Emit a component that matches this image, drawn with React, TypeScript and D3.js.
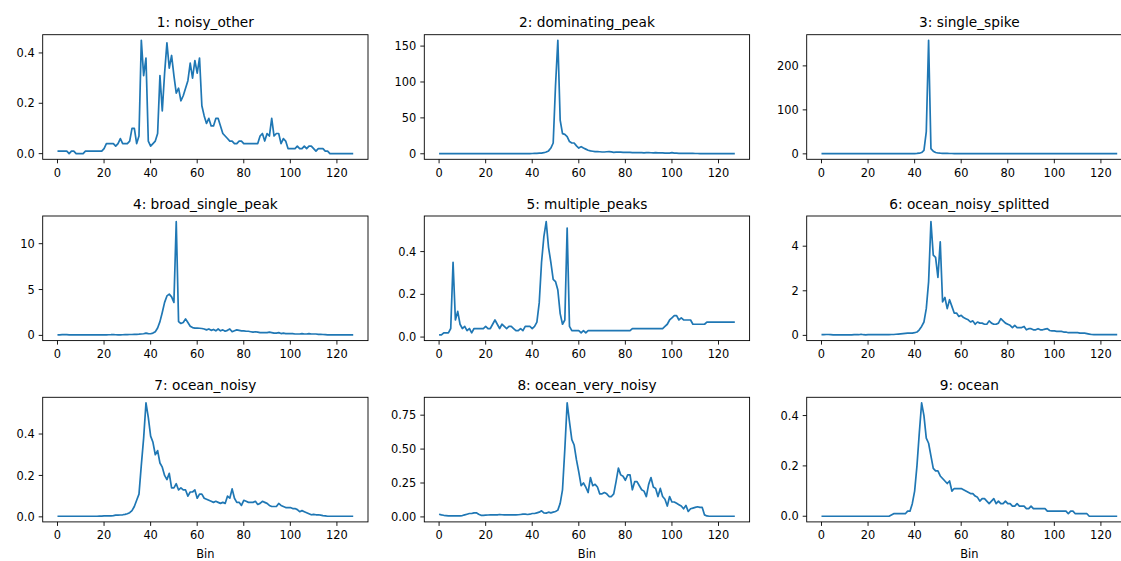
import React from "react";
import * as d3 from "d3";

// ---- data (bins 0..127) ----
const bins: number[] = Array.from({ length: 128 }, (_, i) => i);

const titles: string[] = [
  "1: noisy_other",
  "2: dominating_peak",
  "3: single_spike",
  "4: broad_single_peak",
  "5: multiple_peaks",
  "6: ocean_noisy_splitted",
  "7: ocean_noisy",
  "8: ocean_very_noisy",
  "9: ocean",
];

const noisyOther: number[] = [
  0.01, 0.01, 0.01, 0.01, 0.01, 0.0, 0.01, 0.01, 0.0, 0.0, 0.0, 0.0, 0.01, 0.01, 0.01, 0.01,
  0.01, 0.01, 0.01, 0.01, 0.02, 0.04, 0.04, 0.04, 0.04, 0.03, 0.04, 0.06, 0.04, 0.04, 0.04, 0.05,
  0.1, 0.1, 0.04, 0.07, 0.45, 0.31, 0.38, 0.05, 0.03, 0.04, 0.05, 0.08, 0.31, 0.17, 0.32, 0.44,
  0.34, 0.39, 0.31, 0.24, 0.26, 0.21, 0.23, 0.26, 0.29, 0.36, 0.3, 0.37, 0.32, 0.38, 0.19, 0.15,
  0.12, 0.14, 0.11, 0.11, 0.14, 0.14, 0.11, 0.08, 0.07, 0.06, 0.05, 0.05, 0.04, 0.04, 0.05, 0.05,
  0.04, 0.04, 0.04, 0.04, 0.04, 0.04, 0.04, 0.07, 0.08, 0.05, 0.08, 0.07, 0.14, 0.07, 0.08, 0.08,
  0.04, 0.06, 0.05, 0.02, 0.02, 0.02, 0.02, 0.03, 0.02, 0.02, 0.03, 0.02, 0.03, 0.03, 0.02, 0.01,
  0.02, 0.02, 0.02, 0.01, 0.01, 0.0, 0.0, 0.0, 0.0, 0.0, 0.0, 0.0, 0.0, 0.0, 0.0, 0.0,
];

const dominatingPeak: number[] = [
  0.2, 0.2, 0.2, 0.2, 0.2, 0.2, 0.2, 0.2, 0.2, 0.2, 0.2, 0.2, 0.2, 0.2, 0.2, 0.2,
  0.2, 0.2, 0.2, 0.2, 0.2, 0.2, 0.2, 0.2, 0.2, 0.2, 0.2, 0.2, 0.2, 0.2, 0.2, 0.2,
  0.2, 0.2, 0.2, 0.3, 0.3, 0.3, 0.3, 0.3, 0.4, 0.5, 0.6, 0.8, 1, 1.5, 2.5, 4,
  8, 15, 95, 158, 47, 28, 27, 24, 17, 15, 15, 11, 8, 10, 8, 6.5,
  5, 4, 3.5, 3, 3, 2.8, 2.5, 2.5, 2.8, 3, 2.6, 2, 2.3, 2.2, 2.2, 2,
  2, 2, 2, 1.5, 1.5, 1.5, 1.5, 1.5, 1.3, 1.5, 1.6, 1.4, 1.2, 1.5, 1.3, 1.2,
  1.3, 1, 1.1, 0.9, 1.5, 0.9, 0.8, 0.7, 0.7, 0.6, 0.5, 0.5, 0.5, 0.45, 0.4, 0.4,
  0.35, 0.35, 0.3, 0.3, 0.3, 0.25, 0.25, 0.25, 0.2, 0.2, 0.2, 0.2, 0.2, 0.2, 0.2, 0.2,
];

const singleSpike: number[] = [
  0.5, 0.5, 0.5, 0.5, 0.5, 0.5, 0.5, 0.5, 0.5, 0.5, 0.5, 0.5, 0.5, 0.5, 0.5, 0.5,
  0.5, 0.5, 0.5, 0.5, 0.5, 0.5, 0.5, 0.5, 0.5, 0.5, 0.5, 0.5, 0.5, 0.5, 0.5, 0.5,
  0.5, 0.5, 0.5, 0.5, 0.5, 0.5, 0.5, 0.5, 0.7, 1, 1.5, 3, 8, 50, 258, 12,
  6, 3, 2, 1.5, 1.2, 1, 1, 0.8, 0.8, 0.7, 0.7, 0.6, 0.6, 0.6, 0.5, 0.5,
  0.5, 0.5, 0.5, 0.5, 0.5, 0.5, 0.5, 0.5, 0.5, 0.5, 0.5, 0.5, 0.5, 0.5, 0.5, 0.5,
  0.5, 0.5, 0.5, 0.5, 0.5, 0.5, 0.5, 0.5, 0.5, 0.5, 0.5, 0.5, 0.5, 0.5, 0.5, 0.5,
  0.5, 0.5, 0.5, 0.5, 0.5, 0.5, 0.5, 0.5, 0.5, 0.5, 0.5, 0.5, 0.5, 0.5, 0.5, 0.5,
  0.5, 0.5, 0.5, 0.5, 0.5, 0.5, 0.5, 0.5, 0.5, 0.5, 0.5, 0.5, 0.5, 0.5, 0.5, 0.5,
];

const broadSinglePeak: number[] = [
  0.05, 0.06, 0.08, 0.1, 0.08, 0.06, 0.05, 0.05, 0.05, 0.05, 0.05, 0.05, 0.05, 0.05, 0.05, 0.05,
  0.05, 0.05, 0.05, 0.06, 0.06, 0.06, 0.07, 0.08, 0.1, 0.07, 0.06, 0.06, 0.07, 0.08, 0.08, 0.1,
  0.1, 0.12, 0.12, 0.13, 0.15, 0.18, 0.25, 0.2, 0.18, 0.25, 0.4, 0.8, 1.5, 2.5, 3.6, 4.3,
  4.5, 4.2, 3.6, 12.4, 1.5, 1.3, 1.4, 1.8, 1.4, 1.0, 0.85, 0.8, 0.8, 0.78, 0.75, 0.7,
  0.6, 0.7, 0.55, 0.65, 0.5, 0.7, 0.5, 0.6, 0.45, 0.55, 0.7, 0.4, 0.5, 0.6, 0.55, 0.5,
  0.5, 0.45, 0.45, 0.4, 0.35, 0.4, 0.35, 0.3, 0.3, 0.3, 0.3, 0.35, 0.3, 0.25, 0.25, 0.3,
  0.2, 0.25, 0.2, 0.2, 0.2, 0.2, 0.15, 0.15, 0.15, 0.2, 0.15, 0.15, 0.2, 0.15, 0.15, 0.15,
  0.12, 0.12, 0.1, 0.08, 0.05, 0.05, 0.05, 0.05, 0.05, 0.05, 0.05, 0.05, 0.05, 0.05, 0.05, 0.05,
];

const multiplePeaks: number[] = [
  0.01, 0.01, 0.02, 0.02, 0.02, 0.04, 0.35, 0.08, 0.12, 0.06, 0.04, 0.05, 0.03, 0.04, 0.02, 0.04,
  0.04, 0.04, 0.04, 0.04, 0.05, 0.04, 0.04, 0.06, 0.08, 0.06, 0.04, 0.06, 0.05, 0.04, 0.05, 0.05,
  0.04, 0.03, 0.03, 0.04, 0.03, 0.05, 0.05, 0.05, 0.04, 0.05, 0.07, 0.16, 0.35, 0.47, 0.54, 0.42,
  0.35, 0.27, 0.26, 0.22, 0.11, 0.06, 0.08, 0.51, 0.05, 0.03, 0.03, 0.03, 0.03, 0.02, 0.03, 0.02,
  0.03, 0.03, 0.03, 0.03, 0.03, 0.03, 0.03, 0.03, 0.03, 0.03, 0.03, 0.03, 0.03, 0.03, 0.03, 0.03,
  0.03, 0.03, 0.03, 0.04, 0.04, 0.04, 0.04, 0.04, 0.04, 0.04, 0.04, 0.04, 0.04, 0.04, 0.04, 0.04,
  0.04, 0.05, 0.06, 0.08, 0.09, 0.1, 0.1, 0.08, 0.09, 0.08, 0.08, 0.08, 0.08, 0.06, 0.06, 0.06,
  0.06, 0.06, 0.06, 0.07, 0.07, 0.07, 0.07, 0.07, 0.07, 0.07, 0.07, 0.07, 0.07, 0.07, 0.07, 0.07,
];

const oceanNoisySplitted: number[] = [
  0.03, 0.03, 0.04, 0.04, 0.03, 0.02, 0.02, 0.02, 0.02, 0.02, 0.02, 0.02, 0.02, 0.02, 0.03, 0.03,
  0.03, 0.05, 0.03, 0.02, 0.03, 0.03, 0.03, 0.03, 0.03, 0.03, 0.03, 0.03, 0.03, 0.03, 0.04, 0.04,
  0.05, 0.06, 0.07, 0.08, 0.09, 0.1, 0.1, 0.1, 0.12, 0.15, 0.25, 0.4, 0.6, 1.2, 2.4, 5.1,
  3.6, 3.5, 2.6, 4.2, 1.5, 1.7, 1.2, 1.6, 1.3, 1.0, 1.0, 0.85, 0.9, 0.8, 0.75, 0.7,
  0.6, 0.65, 0.5, 0.6, 0.55, 0.55, 0.5, 0.5, 0.65, 0.55, 0.5, 0.5, 0.55, 0.75, 0.65, 0.55,
  0.5, 0.45, 0.35, 0.45, 0.35, 0.35, 0.35, 0.4, 0.25, 0.3, 0.3, 0.25, 0.25, 0.3, 0.25, 0.25,
  0.28, 0.3, 0.22, 0.2, 0.2, 0.18, 0.18, 0.18, 0.15, 0.15, 0.12, 0.12, 0.12, 0.12, 0.12, 0.1,
  0.1, 0.1, 0.08, 0.06, 0.04, 0.03, 0.03, 0.03, 0.03, 0.03, 0.03, 0.03, 0.03, 0.03, 0.03, 0.03,
];

const oceanNoisy: number[] = [
  0.003, 0.003, 0.003, 0.003, 0.003, 0.003, 0.003, 0.003, 0.003, 0.003, 0.003, 0.003, 0.003, 0.003, 0.003, 0.003,
  0.003, 0.003, 0.004, 0.004, 0.005, 0.005, 0.005, 0.005, 0.006, 0.008, 0.008, 0.009, 0.01, 0.012, 0.015, 0.02,
  0.03, 0.05, 0.08, 0.11, 0.25, 0.38, 0.55, 0.48, 0.39, 0.36, 0.3, 0.32, 0.26, 0.24, 0.2, 0.18,
  0.21, 0.14, 0.14, 0.16, 0.13, 0.14, 0.13, 0.13, 0.1, 0.12, 0.12, 0.13, 0.09, 0.11, 0.11, 0.09,
  0.085, 0.08, 0.075, 0.07, 0.075, 0.07, 0.065, 0.07, 0.065, 0.1, 0.09, 0.135, 0.09, 0.07, 0.07, 0.055,
  0.08, 0.075, 0.07, 0.07, 0.07, 0.075, 0.06, 0.065, 0.075, 0.07, 0.065, 0.055, 0.05, 0.05, 0.05, 0.065,
  0.055, 0.05, 0.045, 0.045, 0.045, 0.04, 0.04, 0.035, 0.025, 0.03, 0.025, 0.02, 0.015, 0.01, 0.012, 0.01,
  0.01, 0.008, 0.006, 0.005, 0.003, 0.003, 0.003, 0.003, 0.003, 0.003, 0.003, 0.003, 0.003, 0.003, 0.003, 0.003,
];

const oceanVeryNoisy: number[] = [
  0.02, 0.015, 0.012, 0.01, 0.008, 0.007, 0.007, 0.007, 0.007, 0.008, 0.01, 0.015, 0.02, 0.025, 0.025, 0.03,
  0.03, 0.02, 0.012, 0.012, 0.013, 0.014, 0.015, 0.015, 0.016, 0.015, 0.018, 0.016, 0.015, 0.015, 0.016, 0.015,
  0.015, 0.015, 0.016, 0.018, 0.02, 0.02, 0.018, 0.02, 0.025, 0.025, 0.03, 0.035, 0.045, 0.03, 0.028, 0.035,
  0.03, 0.035, 0.04, 0.05, 0.1, 0.2, 0.5, 0.84, 0.7, 0.57, 0.53, 0.42, 0.33, 0.23, 0.25, 0.22,
  0.18, 0.29, 0.23, 0.24, 0.22, 0.17, 0.17, 0.18, 0.17, 0.15, 0.15, 0.17, 0.26, 0.36, 0.31, 0.3,
  0.27, 0.31, 0.31, 0.2, 0.26, 0.26, 0.23, 0.2, 0.19, 0.15, 0.24, 0.29, 0.22, 0.21, 0.15, 0.21,
  0.15, 0.13, 0.08, 0.15, 0.11, 0.11, 0.1, 0.09, 0.08, 0.06, 0.085, 0.04, 0.06, 0.065, 0.07, 0.075,
  0.07, 0.07, 0.015, 0.007, 0.005, 0.005, 0.005, 0.005, 0.005, 0.005, 0.005, 0.005, 0.005, 0.005, 0.005, 0.005,
];

const ocean: number[] = [
  0, 0, 0, 0, 0, 0, 0, 0, 0, 0, 0, 0, 0, 0, 0, 0,
  0, 0, 0, 0, 0, 0, 0, 0, 0, 0, 0, 0, 0, 0, 0.005, 0.01,
  0.01, 0.01, 0.01, 0.01, 0.01, 0.02, 0.02, 0.05, 0.1, 0.2, 0.33, 0.45, 0.4, 0.31, 0.29, 0.24,
  0.19, 0.18, 0.18, 0.16, 0.15, 0.14, 0.13, 0.14, 0.1, 0.11, 0.11, 0.11, 0.11, 0.105, 0.1, 0.095,
  0.09, 0.09, 0.08, 0.075, 0.06, 0.07, 0.07, 0.06, 0.05, 0.06, 0.07, 0.05, 0.06, 0.05, 0.05, 0.06,
  0.05, 0.05, 0.04, 0.04, 0.05, 0.04, 0.04, 0.04, 0.03, 0.03, 0.04, 0.03, 0.03, 0.03, 0.03, 0.03,
  0.03, 0.02, 0.02, 0.02, 0.02, 0.02, 0.02, 0.02, 0.02, 0.02, 0.01, 0.02, 0.02, 0.01, 0.01, 0.01,
  0.01, 0.01, 0.01, 0, 0, 0, 0, 0, 0, 0, 0, 0, 0, 0, 0, 0,
];

const seriesList: number[][] = [
  noisyOther, dominatingPeak, singleSpike,
  broadSinglePeak, multiplePeaks, oceanNoisySplitted,
  oceanNoisy, oceanVeryNoisy, ocean,
];

const xTicks: number[] = [0, 20, 40, 60, 80, 100, 120];

const yTicks: number[][] = [
  [0, 0.2, 0.4],
  [0, 50, 100, 150],
  [0, 100, 200],
  [0, 5, 10],
  [0, 0.2, 0.4],
  [0, 2, 4],
  [0, 0.2, 0.4],
  [0, 0.25, 0.5, 0.75],
  [0, 0.2, 0.4],
];

const yTickLabels: string[][] = [
  ["0.0", "0.2", "0.4"],
  ["0", "50", "100", "150"],
  ["0", "100", "200"],
  ["0", "5", "10"],
  ["0.0", "0.2", "0.4"],
  ["0", "2", "4"],
  ["0.0", "0.2", "0.4"],
  ["0.00", "0.25", "0.50", "0.75"],
  ["0.0", "0.2", "0.4"],
];

const xLabel = "Bin";

// ---- layout ----
const W = 1121;
const H = 561;
const colLefts = [42.7, 424.3, 806.7];
const rowTops = [34.7, 216.0, 397.3];
const PW = 325.3;
const PH = 124.6;
const FONT = "'DejaVu Sans', sans-serif";
const LINE = "#1f77b4";

function Panel({ idx }: { idx: number }) {
  const col = idx % 3;
  const row = Math.floor(idx / 3);
  const left = colLefts[col];
  const top = rowTops[row];
  const data = seriesList[idx];
  const n = bins.length;
  const xMin = 0, xMax = n - 1;
  const xPad = (xMax - xMin) * 0.05;
  const x = d3.scaleLinear().domain([xMin - xPad, xMax + xPad]).range([left, left + PW]);
  const [lo, hi] = d3.extent(data) as [number, number];
  const yPad = (hi - lo) * 0.05;
  const y = d3.scaleLinear().domain([lo - yPad, hi + yPad]).range([top + PH, top]);
  const line = d3
    .line<number>()
    .x((_, i) => x(bins[i]))
    .y((d) => y(d));
  const bottom = top + PH;
  return (
    <g>
      <text
        x={left + PW / 2}
        y={top - 7.5}
        textAnchor="middle"
        fontFamily={FONT}
        fontSize={13.7}
        fill="#000"
      >
        {titles[idx]}
      </text>
      <path
        d={line(data) || ""}
        fill="none"
        stroke={LINE}
        strokeWidth={1.7}
        strokeLinejoin="round"
      />
      <rect
        x={left}
        y={top}
        width={PW}
        height={PH}
        fill="none"
        stroke="#000"
        strokeWidth={0.9}
      />
      {xTicks.map((t) => (
        <g key={"x" + t}>
          <line x1={x(t)} x2={x(t)} y1={bottom} y2={bottom + 4} stroke="#000" strokeWidth={0.9} />
          <text
            x={x(t)}
            y={bottom + 17.3}
            textAnchor="middle"
            fontFamily={FONT}
            fontSize={11.4}
            fill="#000"
          >
            {t}
          </text>
        </g>
      ))}
      {yTicks[idx].map((t, k) => (
        <g key={"y" + t}>
          <line x1={left - 4} x2={left} y1={y(t)} y2={y(t)} stroke="#000" strokeWidth={0.9} />
          <text
            x={left - 8}
            y={y(t) + 4.1}
            textAnchor="end"
            fontFamily={FONT}
            fontSize={11.4}
            fill="#000"
          >
            {yTickLabels[idx][k]}
          </text>
        </g>
      ))}
      {row === 2 && (
        <text
          x={left + PW / 2}
          y={bottom + 35.6}
          textAnchor="middle"
          fontFamily={FONT}
          fontSize={11.4}
          fill="#000"
        >
          {xLabel}
        </text>
      )}
    </g>
  );
}

export default function App() {
  return (
    <svg
      width={W}
      height={H}
      viewBox={`0 0 ${W} ${H}`}
      style={{ position: "absolute", left: 0, top: 0, background: "#fff" }}
    >
      <rect x={0} y={0} width={W} height={H} fill="#fff" />
      {seriesList.map((_, i) => (
        <Panel key={i} idx={i} />
      ))}
    </svg>
  );
}
